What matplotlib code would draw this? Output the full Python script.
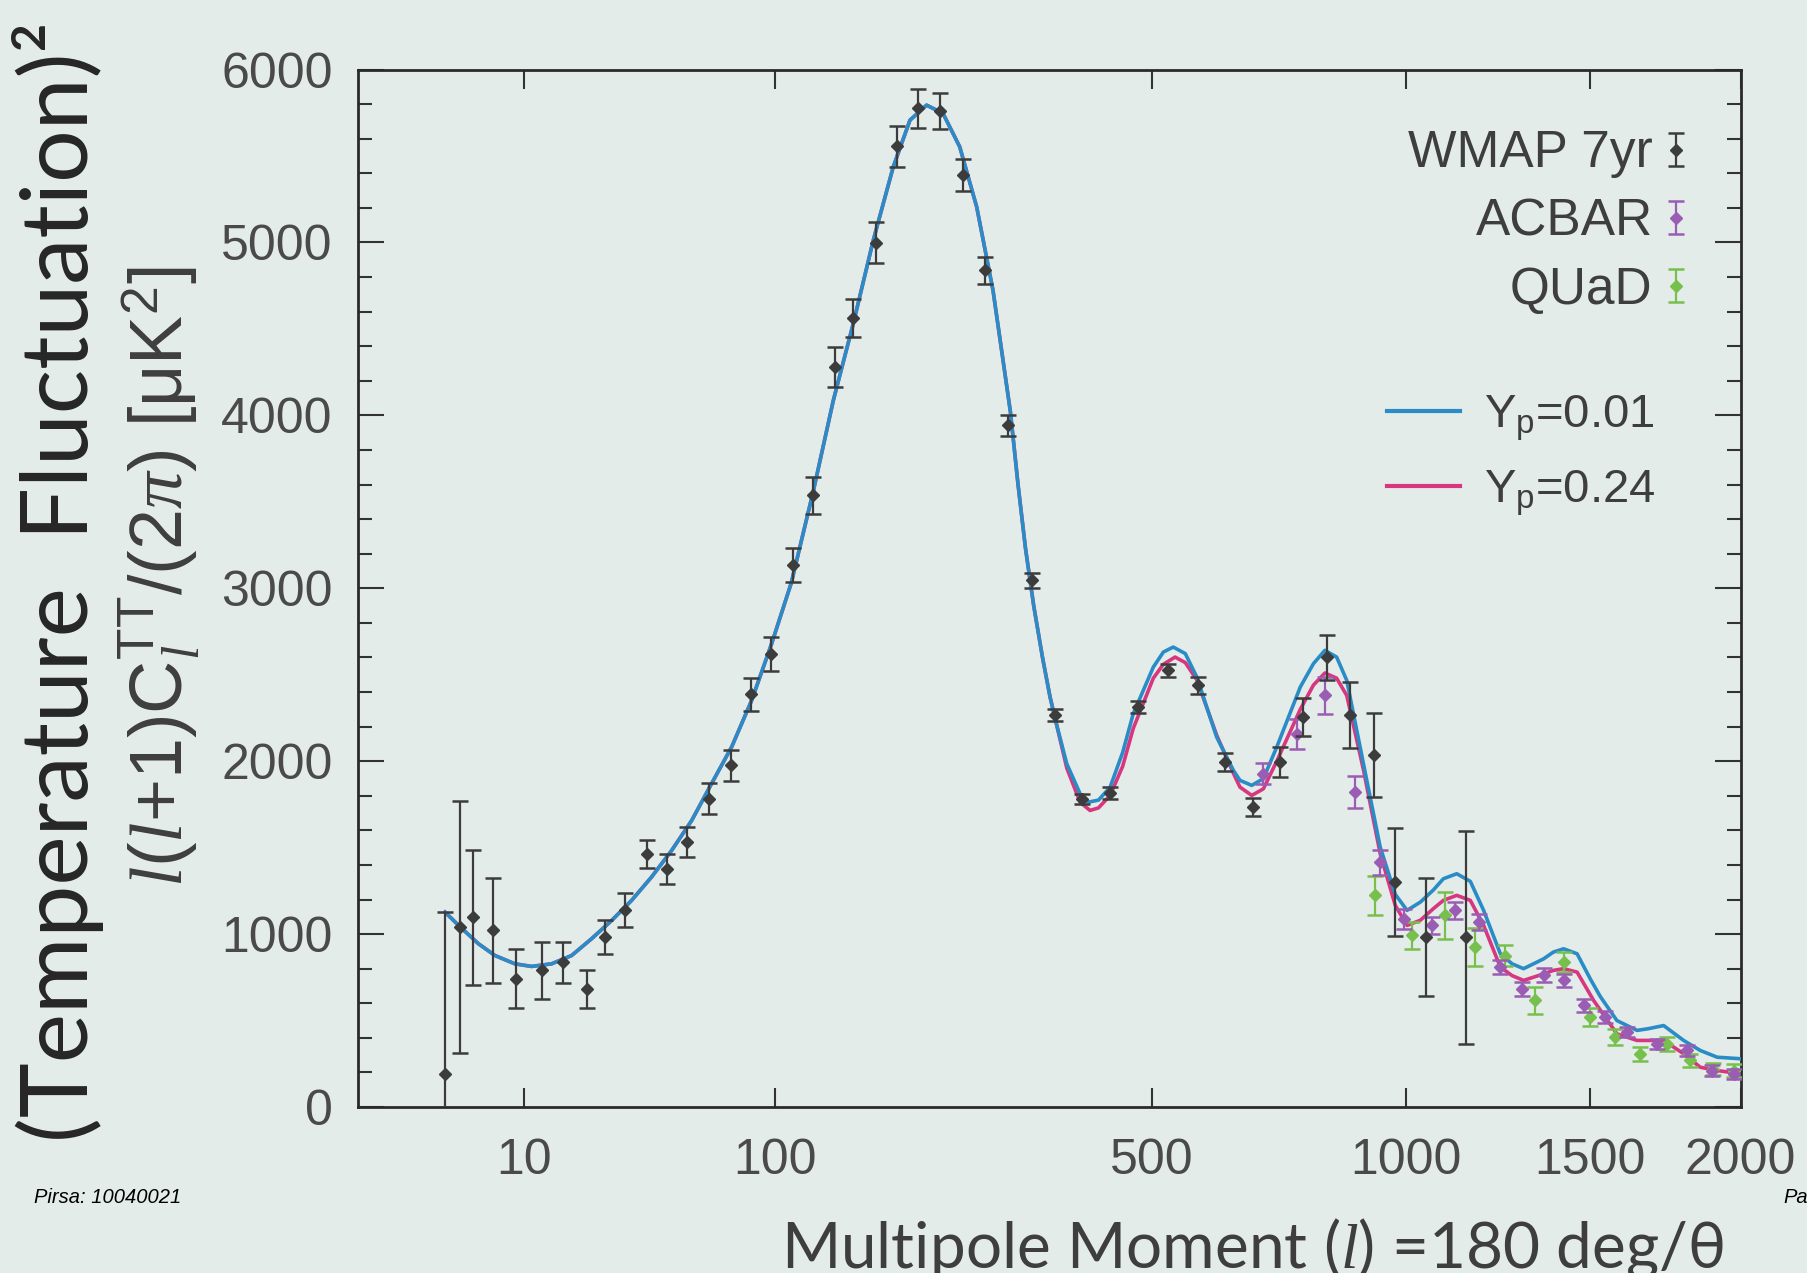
import numpy as np
import matplotlib
matplotlib.use("Agg")
import matplotlib.pyplot as plt
from matplotlib.lines import Line2D
from matplotlib.legend_handler import HandlerErrorbar
from matplotlib.ticker import MultipleLocator, NullLocator

plt.rcParams['font.family'] = ['Liberation Sans', 'DejaVu Sans']
plt.rcParams['mathtext.fontset'] = 'custom'
plt.rcParams['mathtext.rm'] = 'Liberation Sans'
plt.rcParams['mathtext.it'] = 'Liberation Serif:italic'
plt.rcParams['mathtext.bf'] = 'Liberation Sans:bold'

# model curves, shared part up to l~360
shared_l = [2, 3, 4.5, 6.2, 8.7, 11.2, 14.7, 18.8, 23.5, 28.9, 34.9, 41.6, 49.1, 57.3,
            66.2, 76, 86.6, 98, 110, 124.5, 138.7, 153.7, 169.7, 186.6, 201.5, 217,
            233, 250, 268, 286, 306, 315, 324, 334, 345, 354.6, 362]
shared_d = [1127, 1040, 944, 876, 828, 813, 828, 876, 973, 1079, 1195, 1330, 1484, 1657,
            1870, 2082, 2352, 2680, 3030, 3560, 4087, 4531, 5013, 5437, 5707, 5794,
            5746, 5553, 5205, 4723, 4020, 3600, 3230, 2900, 2600, 2371, 2230]

blue_l = [376.4, 394.3, 405.7, 420, 436.6, 455, 471, 502, 518, 534, 554, 573.5, 608,
          638, 650, 672, 694, 720, 767, 794, 818, 843, 865, 902, 940, 975, 1003, 1035,
          1067, 1092, 1126, 1161, 1196, 1241, 1273, 1305, 1362, 1390, 1420, 1460, 1500,
          1530, 1582, 1646, 1680, 1733, 1800, 1857, 1916, 2000]
blue_d = [1985, 1812, 1763, 1775, 1850, 2050, 2275, 2544, 2631, 2660, 2622, 2486, 2139,
          1947, 1889, 1860, 1899, 2082, 2429, 2564, 2641, 2602, 2467, 1985, 1503, 1230,
          1137, 1185, 1255, 1320, 1349, 1305, 1137, 886, 828, 800, 857, 896, 915, 886,
          740, 640, 500, 443, 452, 471, 385, 327, 288, 279]

pink_l = [376.4, 394.3, 408, 420, 436.6, 455, 471, 502, 518, 537, 554, 573.5, 608,
          638, 650, 672, 694, 720, 767, 794, 818, 843, 865, 902, 940, 975, 1003, 1035,
          1067, 1092, 1126, 1161, 1196, 1241, 1273, 1305, 1362, 1390, 1420, 1460, 1510,
          1582, 1646, 1733, 1800, 1857, 1916, 2000]
pink_d = [1960, 1763, 1715, 1730, 1802, 1970, 2190, 2480, 2560, 2602, 2570, 2470, 2150,
          1930, 1850, 1802, 1840, 2000, 2300, 2440, 2510, 2480, 2380, 1950, 1465, 1166,
          1050, 1080, 1147, 1195, 1224, 1195, 1050, 809, 760, 732, 770, 790, 800, 780,
          616, 423, 385, 385, 308, 230, 211, 192]

# WMAP 7yr binned points
wmap_l = [2, 3, 4, 6, 8.8, 12.9, 17, 22.3, 27, 32.8, 39.9, 47.1, 55.2, 65, 75.5, 86.2,
          97.6, 111, 124.5, 140, 153.7, 171.7, 190, 209, 230, 253.7, 277, 303.6, 331.6,
          361, 396.7, 436.6, 478.8, 526.2, 576.2, 623, 675, 727, 773, 822, 873, 925,
          975, 1049, 1150]
wmap_d = [192, 1040, 1098, 1021, 742, 790, 838, 684, 982, 1137, 1465, 1378, 1532, 1783,
          1976, 2386, 2622, 3134, 3537, 4280, 4563, 4999, 5557, 5775, 5761, 5389, 4839,
          3942, 3046, 2265, 1783, 1818, 2313, 2525, 2438, 1995, 1734, 1995, 2255, 2602,
          2265, 2033, 1301, 982, 982]
wmap_err = [935, 728, 390, 304, 169, 167, 119, 111, 98, 98, 82, 87, 87, 89, 89, 96, 98,
            100, 106, 118, 110, 120, 118, 113, 106, 92, 79, 61, 43, 34, 29, 34, 36, 39,
            48, 53, 53, 87, 111, 130, 190, 243, 313, 342, 615]

# ACBAR
acbar_l = [694, 760, 819, 884, 940, 995, 1063, 1122, 1183, 1241, 1300, 1362, 1420, 1480,
           1546, 1614, 1711, 1812, 1898, 1975]
acbar_d = [1928, 2159, 2381, 1821, 1416, 1089, 1050, 1137, 1069, 809, 684, 761, 732, 587,
           520, 433, 366, 327, 211, 192]
acbar_err = [60, 87, 106, 92, 72, 58, 50, 50, 45, 40, 40, 40, 40, 35, 35, 30, 30, 30, 30, 30]

# QUaD
quad_l = [929, 1015, 1097, 1174, 1254, 1338, 1420, 1500, 1577, 1657, 1744, 1823, 1900, 1975]
quad_d = [1224, 992, 1108, 925, 876, 616, 838, 520, 404, 308, 366, 269, 221, 211]
quad_err = [111, 77, 135, 111, 60, 77, 60, 50, 45, 40, 40, 40, 35, 35]

bg = '#e4ece9'
blue = '#2a8cc6'
pink = '#d8367f'
c_wmap = '#3c3c3c'
c_acbar = '#9a5db3'
c_quad = '#78c04e'
txt = '#3e3e3e'

fig = plt.figure(figsize=(18.07, 12.73), dpi=100, facecolor=bg)
ax = fig.add_axes([0.198, 0.1304, 0.7653, 0.815])
ax.set_facecolor(bg)

fwd = lambda x: np.sign(x) * np.abs(x) ** 0.4
inv = lambda x: np.sign(x) * np.abs(x) ** 2.5
ax.set_xscale('function', functions=(fwd, inv))

ax.plot(shared_l + pink_l, shared_d + pink_d, color=pink, lw=2.6, zorder=2,
        solid_joinstyle='round')
ax.plot(shared_l + blue_l, shared_d + blue_d, color=blue, lw=2.6, zorder=3,
        solid_joinstyle='round')

eb_kw = dict(fmt='D', ms=6, elinewidth=1.6, capsize=6, capthick=1.8)
qd = ax.errorbar(quad_l, quad_d, yerr=quad_err, color=c_quad, zorder=4, **eb_kw)
ac = ax.errorbar(acbar_l, acbar_d, yerr=acbar_err, color=c_acbar, zorder=5, **eb_kw)
wm = ax.errorbar(wmap_l, wmap_d, yerr=wmap_err, color=c_wmap, zorder=6, **eb_kw)

ax.set_xlim(0, 2000)
ax.set_ylim(0, 6000)
ax.set_xticks([10, 100, 500, 1000, 1500, 2000])
ax.set_xticklabels(['10', '100', '500', '1000', '1500', '2000'])
ax.xaxis.set_minor_locator(NullLocator())
ax.yaxis.set_major_locator(MultipleLocator(1000))
ax.yaxis.set_minor_locator(MultipleLocator(200))

ax.tick_params(axis='both', which='both', direction='in', top=True, right=True,
               color='#333333', labelcolor='#4a4a4a', labelsize=36, width=1.5)
ax.tick_params(axis='x', which='major', length=14, pad=22)
ax.tick_params(axis='y', which='major', length=19, pad=18)
ax.tick_params(axis='y', which='minor', length=10)
for s in ax.spines.values():
    s.set_linewidth(2)
    s.set_color('#2a2a2a')

leg1 = ax.legend(handles=[wm, ac, qd], labels=['WMAP 7yr', 'ACBAR', 'QUaD'],
                 loc='upper right', bbox_to_anchor=(0.979, 0.962), markerfirst=False,
                 frameon=False, fontsize=37, handlelength=0.6, handletextpad=0.15,
                 labelspacing=0.37, borderaxespad=0, labelcolor=txt,
                 handler_map={type(wm): HandlerErrorbar(xerr_size=0.3, yerr_size=0.32)})
ax.add_artist(leg1)
ax.legend(handles=[Line2D([], [], color=blue, lw=3), Line2D([], [], color=pink, lw=3)],
          labels=['Y$_{\\mathrm{p}}$=0.01', 'Y$_{\\mathrm{p}}$=0.24'],
          loc='upper right', bbox_to_anchor=(0.952, 0.706), frameon=False, fontsize=34,
          handlelength=1.55, handletextpad=0.5, labelspacing=0.55, borderaxespad=0,
          labelcolor=txt)

fig.text(0.032, 0.543, '(Temperature  Fluctuation)\u00b2', rotation=90, ha='center',
         va='center', fontsize=67, family=['Lato', 'DejaVu Sans'], color='#262626')
fig.text(0.088, 0.547, r'$l$($l$+1)C$_{l}^{\mathrm{TT}}$/(2$\pi$) [μK$^{\mathrm{2}}$]',
         rotation=90, ha='center', va='center', fontsize=53, color=txt)
fig.text(0.693, 0.004, 'Multipole Moment ($l$) =180 deg/\u03b8', ha='center',
         va='baseline', fontsize=46, family=['Lato', 'DejaVu Sans'], color=txt)
fig.text(0.019, 0.059, 'Pirsa: 10040021', style='italic', fontsize=14.5, va='center',
         color='black')
fig.text(0.987, 0.059, 'Page', style='italic', fontsize=14.5, va='center', color='black')

fig.savefig('out.png', dpi=100, facecolor=bg)
